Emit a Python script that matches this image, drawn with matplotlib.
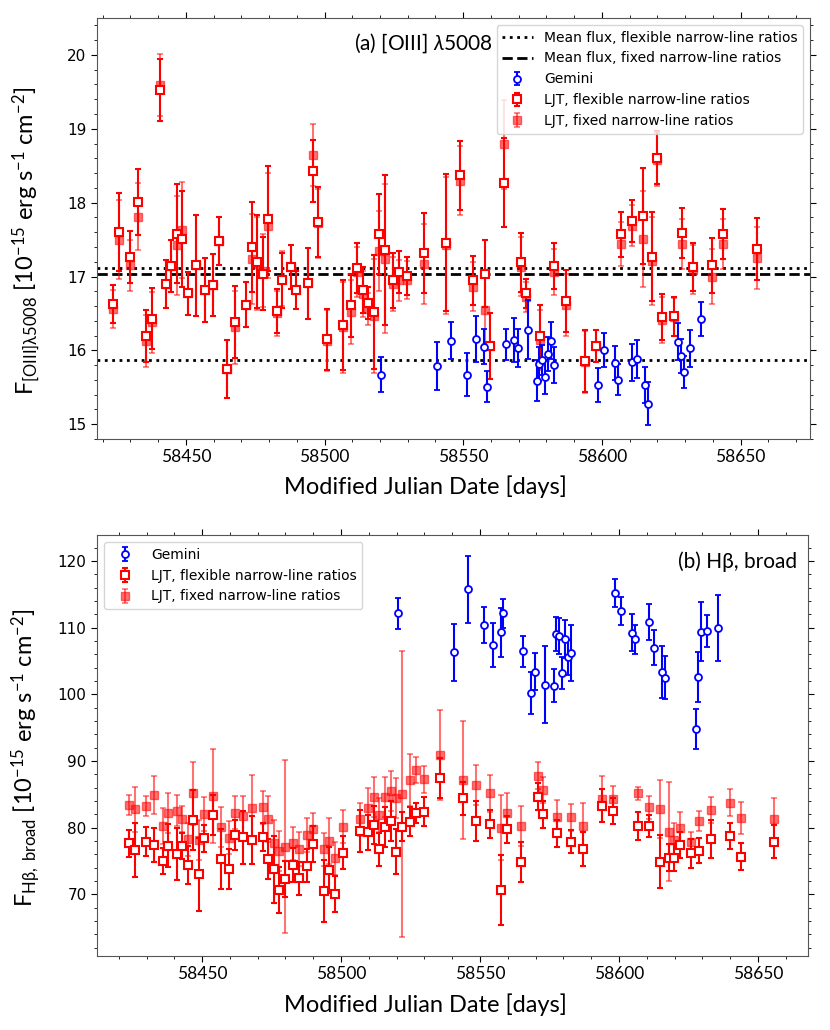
import numpy as np
import matplotlib
matplotlib.use("Agg")
import matplotlib.pyplot as plt
from matplotlib.ticker import MultipleLocator

# LJT epochs (MJD), shared by both panels
mjd_ljt = [58423.8, 58425.8, 58429.8, 58432.8, 58435.8, 58437.8, 58440.8, 58442.8,
           58444.8, 58446.7, 58448.8, 58450.8, 58453.8, 58456.8, 58459.8, 58461.8,
           58464.8, 58467.8, 58471.8, 58473.8, 58475.8, 58477.8, 58479.8, 58482.8,
           58484.8, 58487.8, 58489.9, 58493.9, 58495.8, 58497.8, 58500.8, 58506.8,
           58509.6, 58511.8, 58513.8, 58515.8, 58517.8, 58519.8, 58521.8, 58524.8,
           58526.9, 58529.8, 58535.7, 58543.8, 58548.7, 58553.7, 58557.7, 58559.7,
           58564.6, 58570.7, 58572.8, 58577.7, 58582.7, 58586.9, 58593.9, 58597.9,
           58606.9, 58610.9, 58614.9, 58617.9, 58619.7, 58621.8, 58625.8, 58628.9,
           58633.0, 58639.8, 58643.8, 58655.9]

# [OIII] 5008 flux, LJT
o3_flex = [16.63, 17.60, 17.26, 18.01, 16.19, 16.43, 19.52, 16.90, 17.14, 17.58, 17.51,
           16.77, 17.15, 16.82, 16.89, 17.48, 15.75, 16.38, 16.62, 17.40, 17.20, 17.04,
           17.78, 16.53, 16.95, 17.13, 16.82, 16.91, 18.43, 17.74, 16.15, 16.34, 16.61,
           17.11, 16.82, 16.64, 16.52, 17.58, 17.36, 16.95, 17.06, 17.01, 17.32, 17.46,
           18.37, 16.95, 17.04, 16.06, 18.27, 17.19, 16.77, 16.20, 17.14, 16.67, 15.85,
           16.06, 17.57, 17.75, 17.82, 17.27, 18.61, 16.45, 16.46, 17.59, 17.13, 17.15,
           17.58, 17.37]
o3_fix = [16.56, 17.50, 17.15, 17.81, 16.13, 16.38, 19.59, 16.90, 17.14, 17.42, 17.63,
          16.77, 17.15, 16.82, 16.88, 17.48, 15.75, 16.31, 16.62, 17.24, 17.17, 17.08,
          17.69, 16.50, 16.97, 17.13, 16.82, 16.91, 18.64, 17.72, 16.13, 16.31, 16.52,
          17.06, 16.76, 16.56, 16.47, 17.35, 17.24, 16.90, 16.95, 16.95, 17.17, 17.42,
          18.30, 16.86, 16.54, 16.06, 18.79, 17.13, 16.72, 16.14, 17.06, 16.62, 15.84,
          16.06, 17.44, 17.69, 17.51, 17.21, 18.58, 16.41, 16.45, 17.44, 17.09, 17.00,
          17.44, 17.25]
o3_err = [0.26, 0.53, 0.35, 0.45, 0.35, 0.41, 0.42, 0.32, 0.35, 0.67, 0.65, 0.29, 0.68,
          0.43, 0.42, 0.32, 0.39, 0.49, 0.30, 0.61, 0.63, 0.49, 0.71, 0.30, 0.37, 0.30,
          0.26, 0.48, 0.42, 0.47, 0.41, 0.61, 0.43, 0.34, 0.31, 0.22, 0.77, 0.54, 1.01,
          0.37, 0.28, 0.26, 0.54, 0.93, 0.47, 0.33, 0.45, 0.45, 0.60, 0.40, 0.20, 0.41,
          0.31, 0.42, 0.42, 0.22, 0.30, 0.28, 0.65, 0.60, 0.36, 0.31, 0.26, 0.34, 0.33,
          0.37, 0.34, 0.42]

# H-beta broad flux, LJT
hb_flex = [77.65, 76.65, 77.9, 77.4, 75.0, 77.3, 76.05, 77.25, 74.4, 81.15, 73.0, 78.4,
           81.9, 75.3, 73.75, 78.9, 78.55, 78.15, 78.55, 75.25, 73.75, 70.65, 72.25, 74.4,
           72.4, 74.3, 77.55, 70.5, 73.65, 70.05, 76.25, 79.5, 79.3, 80.4, 76.75, 80.15,
           81.0, 76.4, 80.15, 80.9, 82.15, 82.4, 87.5, 84.4, 81.0, 80.55, 70.65, 79.75,
           74.9, 84.65, 82.0, 79.15, 77.9, 76.8, 83.3, 82.5, 80.3, 80.25, 74.9, 75.5,
           75.5, 77.4, 76.15, 76.55, 78.3, 78.75, 75.65, 77.9]
hb_fix = [83.4, 82.75, 83.25, 84.9, 80.25, 82.15, 82.55, 81.3, 78.25, 85.15, 78.15, 82.05,
          84.75, 80.15, 78.5, 82.25, 81.75, 82.9, 83.05, 81.3, 77.65, 76.55, 77.15, 77.65,
          76.8, 78.9, 79.75, 76.75, 78.0, 75.4, 80.15, 81.25, 82.9, 84.65, 81.9, 84.65,
          85.5, 84.4, 85.05, 87.15, 88.65, 87.25, 90.9, 87.15, 86.4, 85.15, 80.0, 82.15,
          80.3, 87.8, 85.65, 81.65, 81.55, 80.25, 84.3, 84.25, 85.15, 83.05, 82.8, 79.4,
          78.15, 79.9, 77.8, 81.05, 82.65, 83.75, 81.5, 81.25]
hb_err_flex = [2.0, 4.0, 2.2, 2.5, 1.9, 3.2, 3.9, 2.0, 2.8, 4.5, 5.5, 2.0, 3.0, 4.5, 3.0,
               2.3, 4.0, 3.6, 2.1, 3.0, 5.0, 3.5, 2.7, 2.6, 2.5, 2.5, 2.7, 4.6, 3.5, 2.7,
               2.5, 3.1, 2.6, 2.9, 2.5, 3.0, 3.0, 3.4, 2.2, 2.2, 1.5, 2.2, 3.0, 2.5, 3.0,
               2.1, 5.2, 2.0, 3.0, 2.0, 2.0, 2.0, 1.7, 2.5, 2.5, 2.0, 2.1, 1.7, 4.0, 2.0,
               2.0, 2.0, 2.2, 1.9, 2.9, 2.0, 2.0, 2.5]
hb_err_fix = [1.5, 3.4, 1.5, 2.9, 2.7, 3.0, 2.3, 2.0, 2.5, 4.7, 3.0, 2.5, 7.0, 3.0, 2.5,
              2.5, 3.0, 5.0, 2.5, 3.5, 3.5, 3.0, 13.0, 2.5, 2.5, 2.5, 2.5, 2.5, 3.5, 2.5,
              2.5, 2.5, 3.0, 3.0, 2.5, 3.0, 3.0, 3.0, 21.5, 3.9, 2.0, 2.0, 6.7, 8.9, 3.0,
              2.8, 4.9, 3.0, 3.0, 2.0, 2.0, 2.5, 2.0, 3.5, 3.4, 2.0, 1.0, 1.7, 4.4, 7.4,
              2.5, 2.5, 1.5, 1.5, 2.0, 2.0, 2.4, 3.2]

# Gemini
mjd_gem = [58520.4, 58540.5, 58545.6, 58551.4, 58554.6, 58557.5, 58558.4, 58565.5,
           58568.3, 58569.6, 58573.5, 58576.6, 58577.4, 58578.4, 58579.5, 58580.6,
           58581.5, 58582.6, 58598.6, 58600.7, 58604.7, 58605.7, 58610.7, 58612.7,
           58615.6, 58616.7, 58627.6, 58628.6, 58629.6, 58631.7, 58635.7]
o3_gem = [15.67, 15.79, 16.13, 15.67, 16.15, 16.05, 15.51, 16.08, 16.14, 16.03, 16.28,
          15.59, 15.81, 15.87, 15.64, 15.95, 16.13, 15.80, 15.53, 16.00, 15.83, 15.60,
          15.84, 15.88, 15.53, 15.28, 16.12, 15.93, 15.71, 16.03, 16.42]
o3_gem_err = [0.24, 0.33, 0.25, 0.29, 0.31, 0.24, 0.21, 0.21, 0.30, 0.26, 0.40, 0.28,
              0.23, 0.20, 0.23, 0.23, 0.25, 0.24, 0.23, 0.23, 0.23, 0.21, 0.25, 0.26,
              0.24, 0.29, 0.25, 0.23, 0.22, 0.25, 0.23]
hb_gem = [112.15, 106.3, 115.75, 110.4, 107.45, 109.3, 112.15, 106.45, 100.2, 103.4,
          101.45, 101.3, 109.05, 108.75, 103.15, 108.3, 105.55, 106.15, 115.15, 112.55,
          109.25, 108.25, 110.85, 107.0, 103.4, 102.5, 94.85, 102.6, 109.4, 109.55, 109.95]
hb_gem_err = [2.35, 4.3, 5.0, 2.75, 3.3, 3.7, 2.2, 2.3, 3.1, 2.75, 5.8, 2.5, 2.6, 2.75,
              2.4, 2.9, 2.6, 4.2, 2.1, 2.1, 2.8, 2.2, 2.7, 2.6, 3.9, 3.25, 3.0, 3.75,
              4.4, 2.4, 5.0]

# mean [OIII] levels: LJT flexible, LJT fixed, Gemini
o3_mean_flex = 17.11
o3_mean_fix = 17.04
o3_mean_gem = 15.87

RED = '#ff0000'
BLUE = '#0000ff'
xfont = 'Lato'

# axis titles are set in a Calibri-like face; use Lato for them, math included
plt.rcParams['mathtext.fontset'] = 'custom'
plt.rcParams['mathtext.rm'] = xfont
plt.rcParams['mathtext.it'] = xfont + ':italic'
plt.rcParams['mathtext.bf'] = xfont + ':bold'
plt.rcParams['mathtext.fallback'] = 'stixsans'

fig = plt.figure(figsize=(8.3, 10.3), dpi=100)
ax1 = fig.add_axes([0.1169, 0.5738, 0.859, 0.4087])
ax2 = fig.add_axes([0.1169, 0.0718, 0.8566, 0.4087])


def draw_panel(ax, gem, gem_err, flex, err_flex, fix, err_fix):
    h_fix = ax.errorbar(mjd_ljt, fix, yerr=err_fix, fmt='s', color=RED, mfc=RED, mec=RED,
                        ms=5.5, capsize=2, elinewidth=1.5, capthick=1.2, alpha=0.55, zorder=2)
    h_flex = ax.errorbar(mjd_ljt, flex, yerr=err_flex, fmt='s', color=RED, mfc='white',
                         mec=RED, mew=1.5, ms=5.5, capsize=2, elinewidth=1.5, capthick=1.2,
                         zorder=3)
    h_gem = ax.errorbar(mjd_gem, gem, yerr=gem_err, fmt='o', color=BLUE, mfc='white',
                        mec=BLUE, mew=1.3, ms=5, capsize=2, elinewidth=1.5, capthick=1.2,
                        zorder=4)
    return h_gem, h_flex, h_fix


# (a) [OIII]
g1, f1, x1 = draw_panel(ax1, o3_gem, o3_gem_err, o3_flex, o3_err, o3_fix, o3_err)
l_flex = ax1.axhline(o3_mean_flex, color='k', ls=':', lw=2, zorder=1)
ax1.axhline(o3_mean_gem, color='k', ls=':', lw=2, zorder=1)
l_fix = ax1.axhline(o3_mean_fix, color='k', ls='--', lw=2, zorder=1)
ax1.set_xlim(58418, 58675)
ax1.set_ylim(14.8, 20.5)
ax1.yaxis.set_major_locator(MultipleLocator(1))
ax1.yaxis.set_minor_locator(MultipleLocator(0.2))
ax1.set_ylabel(r'F$_{\mathrm{[OIII]λ5008}}$ [10$^{\mathrm{-15}}$ erg s$^{\mathrm{-1}}$ cm$^{\mathrm{-2}}$]',
               fontsize=17, family=xfont)
ax1.yaxis.set_label_coords(-0.076, 0.47)
ax1.legend([l_flex, l_fix, g1, f1, x1],
           ['Mean flux, flexible narrow-line ratios', 'Mean flux, fixed narrow-line ratios',
            'Gemini', 'LJT, flexible narrow-line ratios', 'LJT, fixed narrow-line ratios'],
           loc='upper right', fontsize=10, handlelength=2.2)
ax1.text(0.36, 0.94, r'(a) [OIII] $\lambda$5008', transform=ax1.transAxes,
         fontsize=15, family=[xfont, 'DejaVu Sans'], ha='left', va='center')

# (b) H-beta broad
g2, f2, x2 = draw_panel(ax2, hb_gem, hb_gem_err, hb_flex, hb_err_flex, hb_fix, hb_err_fix)
ax2.set_xlim(58412.2, 58668)
ax2.set_ylim(60.75, 123.9)
ax2.yaxis.set_major_locator(MultipleLocator(10))
ax2.yaxis.set_minor_locator(MultipleLocator(2))
ax2.set_ylabel(r'F$_{\mathrm{Hβ,\ broad}}$ [10$^{\mathrm{-15}}$ erg s$^{\mathrm{-1}}$ cm$^{\mathrm{-2}}$]',
               fontsize=17, family=xfont)
ax2.yaxis.set_label_coords(-0.076, 0.47)
ax2.legend([g2, f2, x2],
           ['Gemini', 'LJT, flexible narrow-line ratios', 'LJT, fixed narrow-line ratios'],
           loc='upper left', fontsize=10, handlelength=2.2)
ax2.text(0.985, 0.936, '(b) Hβ, broad', transform=ax2.transAxes,
         fontsize=15, family=[xfont, 'DejaVu Sans'], ha='right', va='center')

for ax in (ax1, ax2):
    ax.xaxis.set_major_locator(MultipleLocator(50))
    ax.xaxis.set_minor_locator(MultipleLocator(10))
    ax.tick_params(which='both', direction='out', top=True, right=True)
    ax.tick_params(which='major', length=4, labelsize=11)
    ax.tick_params(which='minor', length=2)
    ax.tick_params(axis='x', labelsize=12.5, pad=3)
    ax.ticklabel_format(axis='x', useOffset=False, style='plain')
    for lbl in ax.get_xticklabels():
        lbl.set_fontfamily(xfont)
    for sp in ax.spines.values():
        sp.set_color('#555555')

fig.text(0.512, 1 - 487 / 1030, 'Modified Julian Date [days]', fontsize=17,
         family=xfont, ha='center', va='center')
fig.text(0.512, 1 - 1005 / 1030, 'Modified Julian Date [days]', fontsize=17,
         family=xfont, ha='center', va='center')

fig.savefig('out.png', dpi=100)
